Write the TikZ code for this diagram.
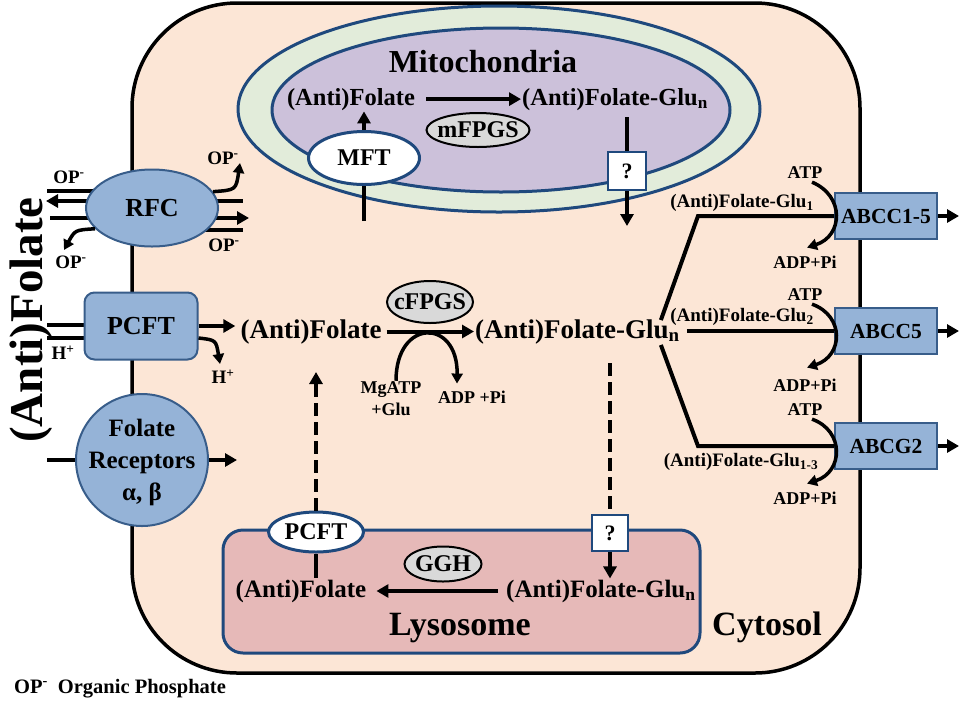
\documentclass[tikz,border=0pt]{standalone}
\usepackage{fontspec}
\setmainfont{Liberation Serif}
\usetikzlibrary{arrows.meta,shapes.geometric}
\pgfdeclarelayer{back}
\pgfsetlayers{back,main}
\definecolor{cellfill}{RGB}{252,230,214}
\definecolor{mitoO}{RGB}{226,236,218}
\definecolor{mitoI}{RGB}{204,193,218}
\definecolor{membc}{RGB}{31,73,125}
\definecolor{trf}{RGB}{149,179,215}
\definecolor{trd}{RGB}{56,93,138}
\definecolor{lysof}{RGB}{230,185,184}
\definecolor{enzf}{RGB}{217,217,217}
\newcommand{\zw}[1]{\makebox[0pt]{#1}}
\begin{document}
\begin{tikzpicture}[x=1pt,y=-1pt,
 tx/.style={font=\bfseries\fontsize{#1}{#1}\selectfont, inner sep=1pt},
 ln/.style={line width=4pt},
 arr/.style={line width=4pt, -{Triangle[length=12pt,width=13pt]}},
 carr/.style={line width=3.5pt, -{Triangle[length=10pt,width=11pt]}},
 dsh/.style={dash pattern=on 13pt off 6pt},
 trans/.style={fill=trf, draw=trd, line width=2pt},
 abc/.style={tx=21.5, trans, rectangle, minimum width=102pt, minimum height=46pt},
 enzy/.style={tx=24, ellipse, fill=enzf, draw=black, line width=2pt, inner sep=0pt},
 pore/.style={tx=24, ellipse, fill=white, draw=membc, line width=3pt, inner sep=0pt},
 qbox/.style={tx=22, rectangle, fill=white, draw=membc, line width=2.5pt, inner sep=0pt},
]
\useasboundingbox (0,0) rectangle (960,705);
% cell
\begin{pgfonlayer}{back}
\draw[fill=cellfill, line width=3.5pt, rounded corners=105pt] (132,3) rectangle (860,673);
\end{pgfonlayer}

% ---------- mitochondria
\node[ellipse, draw=membc, line width=3pt, fill=mitoO, minimum width=522pt, minimum height=206pt, inner sep=0pt] (mitoOut) at (499,109) {};
\node[ellipse, draw=membc, line width=3pt, fill=mitoI, minimum width=458pt, minimum height=164pt, inner sep=0pt] (mitoIn) at (501,110) {};
\node[tx=32, anchor=base] (mitoT) at (483,72) {Mitochondria};
\node[tx=24.5, anchor=base] (mfol) at (351,105) {(Anti)Folate};
\node[tx=24.5, anchor=base west] (mglu) at (521,105) {(Anti)Folate-Glu\textsubscript{n}};
\draw[arr, shorten <=10pt] (mfol.east) -- (mfol.east -| mglu.west);
\node[enzy, minimum width=103pt, minimum height=34pt] (mF) at (478,130) {\zw{mFPGS}};
\node[pore, minimum width=111pt, minimum height=53pt] (MFT) at (364,158) {\zw{MFT}};
\draw[arr] (MFT.north) -- (MFT.north |- mfol.south);
\coordinate (mIn) at (364,221);
\draw[ln] (mIn) -- (MFT.south);
\node[qbox, minimum width=38pt, minimum height=38pt] (qb1) at (627,171) {?};
\draw[ln, shorten <=6pt] (mglu.south -| qb1.north) -- (qb1.north);
\coordinate (mOut) at (627,226);
\draw[arr] (qb1.south) -- (mOut);

% ---------- RFC
\node[ellipse, trans, tx=26, minimum width=132pt, minimum height=77pt, inner sep=0pt] (RFC) at (152,208) {\zw{RFC}};
\coordinate (rl1) at (47,191);
\coordinate (rl2) at (46,201);
\coordinate (rl3) at (50,218);
\coordinate (rr1) at (243,201);
\coordinate (rr2) at (249,218);
\coordinate (rr3) at (243,230);
\begin{pgfonlayer}{back}
\draw[ln] (rl1) -- (rl1 -| RFC.center);
\draw[arr] (rl2 -| RFC.center) -- (rl2);
\draw[ln] (rl3) -- (rl3 -| RFC.center);
\draw[ln] (rr1 -| RFC.center) -- (rr1);
\draw[arr] (rr2 -| RFC.center) -- (rr2);
\draw[ln] (rr3 -| RFC.center) -- (rr3);
\end{pgfonlayer}
\coordinate (op1e) at (240,163);
\coordinate (op2e) at (64,250);
\draw[carr] (RFC.15) .. controls (236,190) .. (op1e);
\draw[carr] (RFC.200) .. controls (75,230) .. (op2e);
\node[tx=19] (opa) at (69,177) {OP\textsuperscript{-}};
\node[tx=19] (opb) at (223,158) {OP\textsuperscript{-}};
\node[tx=19] (opc) at (71,262) {OP\textsuperscript{-}};
\node[tx=19] (opd) at (224,245) {OP\textsuperscript{-}};

% ---------- PCFT
\node[trans, tx=26, rectangle, rounded corners=10pt, minimum width=113pt, minimum height=67pt] (PCFT) at (141,326) {PCFT};
\coordinate (pl1) at (47,325);
\coordinate (pl2) at (47,338);
\begin{pgfonlayer}{back}
\draw[ln] (pl1) -- (pl1 -| PCFT.center);
\draw[ln] (pl2) -- (pl2 -| PCFT.center);
\end{pgfonlayer}
\node[tx=19] (ha) at (63,353) {H\textsuperscript{+}};
\node[tx=19] (hb) at (223,377) {H\textsuperscript{+}};
\node[tx=27, anchor=base] (cfol) at (311,338) {(Anti)Folate};
\draw[arr, shorten >=4pt] (PCFT.east) -- (PCFT.east -| cfol.west);
\coordinate (hEnd) at (220,364);
\draw[carr] ([yshift=-12pt]PCFT.east) .. controls (216,340) .. (hEnd);

% ---------- folate receptors
\node[circle, trans, minimum size=132pt, inner sep=0pt] (FR) at (142,460) {};
\node[font=\bfseries\fontsize{25}{32}\selectfont, align=center, inner sep=0pt] (FRt) at (142,462) {Folate\\Receptors\\α, β};
\coordinate (frL) at (47,460);
\coordinate (frR) at (237,460);
\draw[ln] (frL) -- (FR.west);
\draw[arr] (FR.east) -- (frR);

% ---------- big label
\node[tx=47, rotate=90] (big) at (31,320) {(Anti)Folate};

% ---------- cytosol reaction
\node[tx=27, anchor=base west] (cglu) at (474,338) {(Anti)Folate-Glu\textsubscript{n}};
\draw[arr, shorten <=4pt] (cfol.east) -- (cfol.east -| cglu.west);
\node[enzy, minimum width=86pt, minimum height=42pt] (cF) at (430,302) {\zw{cFPGS}};
\node[font=\bfseries\fontsize{18}{22}\selectfont, align=center, inner sep=1pt] (mg) at (391,399) {MgATP\\+Glu};
\node[tx=18] (adp) at (472,397) {ADP +Pi};
\draw[carr] ([xshift=5pt]mg.north) .. controls (396,318) and (458,318) .. ([xshift=-15pt,yshift=6pt]adp.north);

% ---------- lysosome
\node[rectangle, rounded corners=20pt, draw=membc, line width=3pt, fill=lysof, minimum width=477pt, minimum height=123pt] (lyso) at (461.5,591.5) {};
\node[pore, minimum width=95pt, minimum height=40pt] (lPCFT) at (316,532) {\zw{PCFT}};
\node[qbox, minimum width=36pt, minimum height=36pt] (lq) at (610,533) {?};
\node[tx=25, anchor=base] (lfol) at (301,597) {(Anti)Folate};
\node[tx=25, anchor=base west] (lglu) at (505,597) {(Anti)Folate-Glu\textsubscript{n}};
\node[enzy, minimum width=77pt, minimum height=35pt] (GGH) at (443,564) {\zw{GGH}};
\node[tx=34, anchor=base] (lysoT) at (460,635) {Lysosome};
\draw[arr, shorten <=7pt, shorten >=9pt] (lglu.west) -- (lglu.west -| lfol.east);
\draw[ln] (lPCFT.south) -- (lPCFT.south |- lfol.north);
\draw[arr] (lq.south) -- (lq.south |- lglu.north);
\coordinate (dTop) at (316,372);
\draw[arr, dsh] (lPCFT.north) -- (dTop);
\coordinate (dR) at (610,363);
\draw[ln, dsh] (dR) -- (lq.north);

% ---------- efflux pumps
\node[abc] (abc1) at (886,216) {ABCC1-5};
\node[abc] (abc2) at (886,331) {ABCC5};
\node[abc] (abc3) at (886,446) {ABCG2};
\coordinate (o1) at (959,216);
\coordinate (o2) at (959,331);
\coordinate (o3) at (959,446);
\draw[arr] (abc1.east) -- (o1);
\draw[arr] (abc2.east) -- (o2);
\draw[arr] (abc3.east) -- (o3);
\draw[ln] ([xshift=-20pt,yshift=-2pt]cglu.north east) -- (698,216) -- (abc1.west);
\draw[ln] ([xshift=6pt]cglu.east |- abc2.west) -- (abc2.west);
\draw[ln] ([xshift=-20pt]cglu.south east) -- (698,446) -- (abc3.west);
\node[tx=19] (g1) at (742,203) {(Anti)Folate-Glu\textsubscript{1}};
\node[tx=19] (g2) at (742,317) {(Anti)Folate-Glu\textsubscript{2}};
\node[tx=19] (g3) at (741,462) {(Anti)Folate-Glu\textsubscript{1-3}};
\node[tx=18] (atp1) at (805,173) {ATP};
\node[tx=18] (adp1) at (805,262) {ADP+Pi};
\node[tx=18] (atp2) at (805,295) {ATP};
\node[tx=18] (adp2) at (805,385) {ADP+Pi};
\node[tx=18] (atp3) at (805,410) {ATP};
\node[tx=18] (adp3) at (805,498) {ADP+Pi};
\draw[carr] ([xshift=7pt,yshift=-2pt]atp1.south) .. controls (845,196) and (843,236) .. ([xshift=2pt,yshift=7pt]adp1.north);
\draw[carr] ([xshift=7pt,yshift=-2pt]atp2.south) .. controls (845,316) and (843,356) .. ([xshift=2pt,yshift=10pt]adp2.north);
\draw[carr] ([xshift=7pt,yshift=-2pt]atp3.south) .. controls (845,431) and (843,472) .. ([xshift=2pt,yshift=7pt]adp3.north);

% ---------- labels
\node[tx=34, anchor=base] (cyto) at (767,635) {Cytosol};
\node[tx=20.5, anchor=base west] (legend) at (13,693) {OP\textsuperscript{-}\hspace{10pt}Organic Phosphate};
\end{tikzpicture}
\end{document}
